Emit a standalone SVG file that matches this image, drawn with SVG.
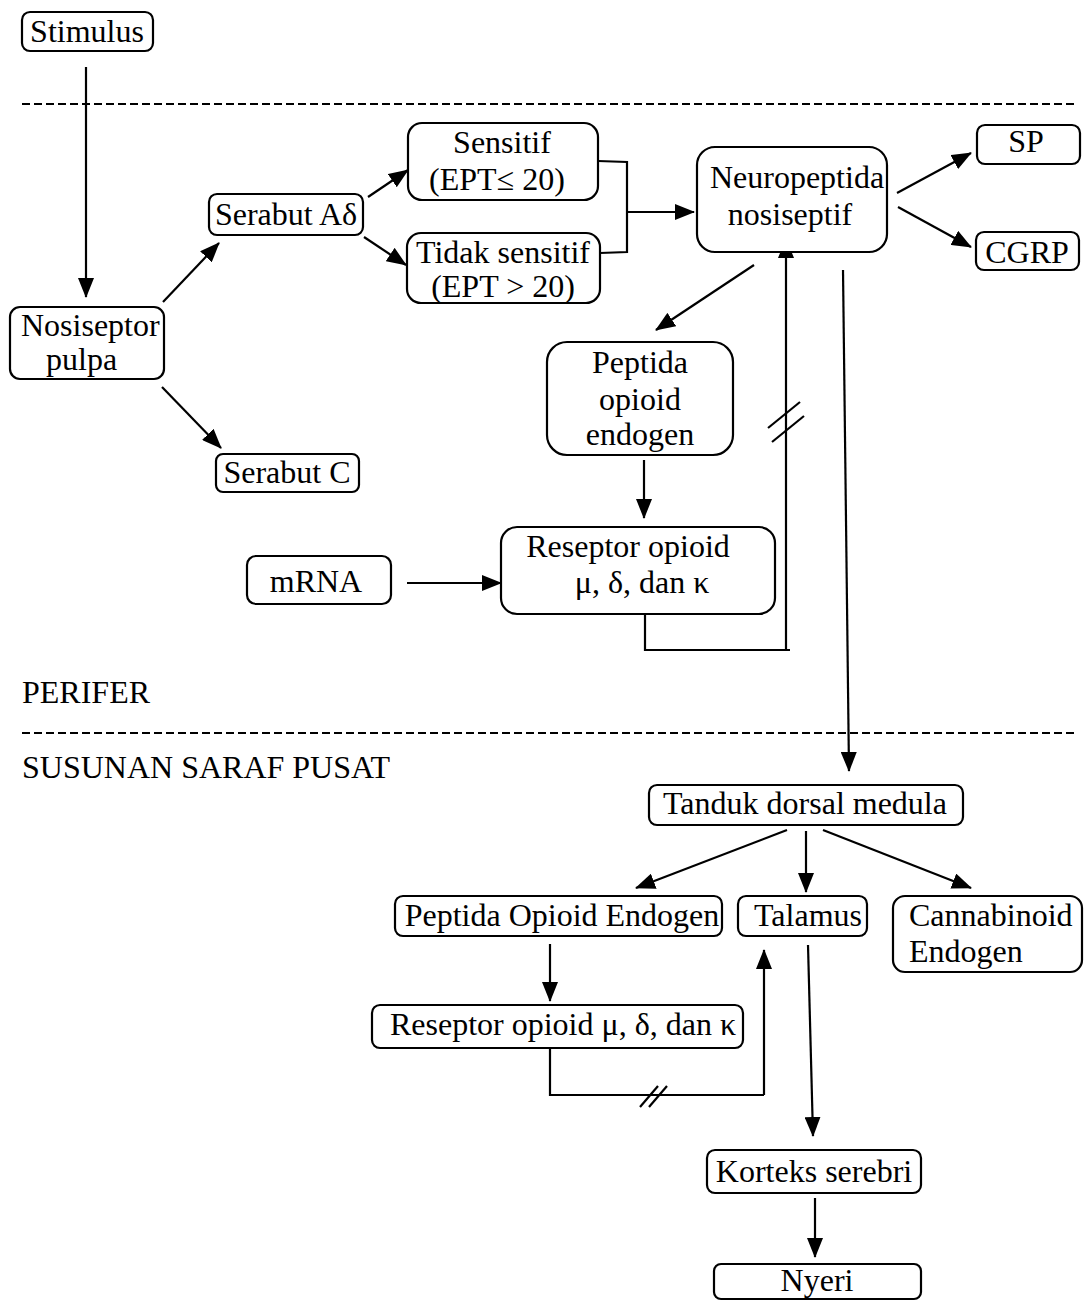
<svg xmlns="http://www.w3.org/2000/svg" width="1084" height="1304" viewBox="0 0 1084 1304">
<style>
  .box{fill:#fff;stroke:#000;stroke-width:2.2}
  .t{font-family:"Liberation Serif","Times New Roman",serif;font-size:32px;fill:#000}
  .c{text-anchor:middle}
  .ln{fill:none;stroke:#000;stroke-width:2.2}
  .ar{fill:none;stroke:#000;stroke-width:2.2;marker-end:url(#ah)}
  .dash{fill:none;stroke:#000;stroke-width:2;stroke-dasharray:8 4}
</style>
<defs>
  <marker id="ah" markerUnits="userSpaceOnUse" viewBox="0 0 20 16" refX="19" refY="8" markerWidth="20" markerHeight="16" orient="auto">
    <path d="M0,0 L20,8 L0,16 Z" fill="#000"/>
  </marker>
</defs>
<rect width="1084" height="1304" fill="#fff"/>

<g id="separators">
  <line class="dash" x1="22" y1="104" x2="1075" y2="104"/>
  <line class="dash" x1="22" y1="733" x2="1075" y2="733"/>
  <text class="t" x="22" y="703">PERIFER</text>
  <text class="t" x="22" y="778">SUSUNAN SARAF PUSAT</text>
</g>

<g id="connectors">
  <line class="ar" x1="86" y1="67" x2="86" y2="297"/>
  <line class="ar" x1="163" y1="302" x2="219" y2="243"/>
  <line class="ar" x1="162" y1="387" x2="221" y2="448"/>
  <line class="ar" x1="368" y1="197" x2="408" y2="170"/>
  <line class="ar" x1="364" y1="237" x2="406" y2="265"/>
  <path class="ln" d="M598,161 L627,162 L627,252 L600,253"/>
  <line class="ar" x1="627" y1="212" x2="694" y2="212"/>
  <line class="ar" x1="897" y1="193" x2="971" y2="153"/>
  <line class="ar" x1="898" y1="207" x2="971" y2="247"/>
  <line class="ar" x1="754" y1="265" x2="656" y2="330"/>
  <line class="ar" x1="644" y1="460" x2="644" y2="518"/>
  <line class="ar" x1="407" y1="583" x2="501" y2="583"/>
  <path class="ln" d="M645,614 L645,650 L790,650"/>
  <line class="ar" x1="786" y1="650" x2="786" y2="239"/>
  <line class="ln" x1="768" y1="428" x2="800" y2="402"/>
  <line class="ln" x1="772" y1="442" x2="804" y2="416"/>
  <line class="ar" x1="843" y1="270" x2="849" y2="771"/>
  <line class="ar" x1="787" y1="830" x2="636" y2="888"/>
  <line class="ar" x1="806" y1="831" x2="806" y2="892"/>
  <line class="ar" x1="823" y1="830" x2="971" y2="888"/>
  <line class="ar" x1="550" y1="944" x2="550" y2="1001"/>
  <path class="ln" d="M550,1048 L550,1095 L764,1095"/>
  <line class="ar" x1="764" y1="1095" x2="764" y2="950"/>
  <line class="ln" x1="640" y1="1107" x2="658" y2="1086"/>
  <line class="ln" x1="649" y1="1107" x2="667" y2="1086"/>
  <line class="ar" x1="808" y1="945" x2="813" y2="1136"/>
  <line class="ar" x1="815" y1="1198" x2="815" y2="1257"/>
</g>

<g id="stimulus">
  <rect class="box" x="22" y="12" width="131" height="39" rx="8"/>
  <text class="t c" x="87" y="42">Stimulus</text>
</g>
<g id="nosiseptor">
  <rect class="box" x="10" y="307" width="154" height="72" rx="10"/>
  <text class="t" x="21" y="336">Nosiseptor</text>
  <text class="t" x="46" y="370">pulpa</text>
</g>
<g id="serabut-a">
  <rect class="box" x="209" y="194" width="154" height="41" rx="8"/>
  <text class="t c" x="286" y="225">Serabut Aδ</text>
</g>
<g id="serabut-c">
  <rect class="box" x="216" y="454" width="143" height="38" rx="7"/>
  <text class="t c" x="287" y="483">Serabut C</text>
</g>
<g id="sensitif">
  <rect class="box" x="408" y="123" width="190" height="77" rx="14"/>
  <text class="t c" x="502" y="153">Sensitif</text>
  <text class="t c" x="497" y="190">(EPT≤ 20)</text>
</g>
<g id="tidak-sensitif">
  <rect class="box" x="407" y="233" width="193" height="70" rx="14"/>
  <text class="t c" x="503" y="263">Tidak sensitif</text>
  <text class="t c" x="503" y="297">(EPT &gt; 20)</text>
</g>
<g id="neuropeptida">
  <rect class="box" x="697" y="147" width="190" height="105" rx="18"/>
  <text class="t c" x="797" y="188">Neuropeptida</text>
  <text class="t c" x="790" y="225">nosiseptif</text>
</g>
<g id="sp">
  <rect class="box" x="977" y="125" width="103" height="39" rx="8"/>
  <text class="t c" x="1026" y="152">SP</text>
</g>
<g id="cgrp">
  <rect class="box" x="976" y="232" width="103" height="38" rx="8"/>
  <text class="t c" x="1027" y="263">CGRP</text>
</g>
<g id="peptida-opioid-perifer">
  <rect class="box" x="547" y="342" width="186" height="113" rx="20"/>
  <text class="t c" x="640" y="373">Peptida</text>
  <text class="t c" x="640" y="410">opioid</text>
  <text class="t c" x="640" y="445">endogen</text>
</g>
<g id="reseptor-perifer">
  <rect class="box" x="501" y="527" width="274" height="87" rx="16"/>
  <text class="t c" x="628" y="557">Reseptor opioid</text>
  <text class="t c" x="642" y="593">μ, δ, dan κ</text>
</g>
<g id="mrna">
  <rect class="box" x="247" y="556" width="144" height="48" rx="9"/>
  <text class="t c" x="316" y="592">mRNA</text>
</g>
<g id="tanduk">
  <rect class="box" x="649" y="785" width="314" height="40" rx="8"/>
  <text class="t c" x="805" y="814">Tanduk dorsal medula</text>
</g>
<g id="peptida-opioid-pusat">
  <rect class="box" x="395" y="896" width="327" height="40" rx="8"/>
  <text class="t c" x="562" y="926">Peptida Opioid Endogen</text>
</g>
<g id="talamus">
  <rect class="box" x="738" y="896" width="129" height="40" rx="8"/>
  <text class="t c" x="808" y="926">Talamus</text>
</g>
<g id="cannabinoid">
  <rect class="box" x="893" y="896" width="189" height="76" rx="12"/>
  <text class="t" x="909" y="926">Cannabinoid</text>
  <text class="t" x="909" y="962">Endogen</text>
</g>
<g id="reseptor-pusat">
  <rect class="box" x="372" y="1005" width="371" height="43" rx="8"/>
  <text class="t c" x="563" y="1035">Reseptor opioid μ, δ, dan κ</text>
</g>
<g id="korteks">
  <rect class="box" x="707" y="1150" width="214" height="43" rx="8"/>
  <text class="t c" x="814" y="1182">Korteks serebri</text>
</g>
<g id="nyeri">
  <rect class="box" x="714" y="1264" width="207" height="35" rx="7"/>
  <text class="t c" x="817" y="1291">Nyeri</text>
</g>
</svg>
